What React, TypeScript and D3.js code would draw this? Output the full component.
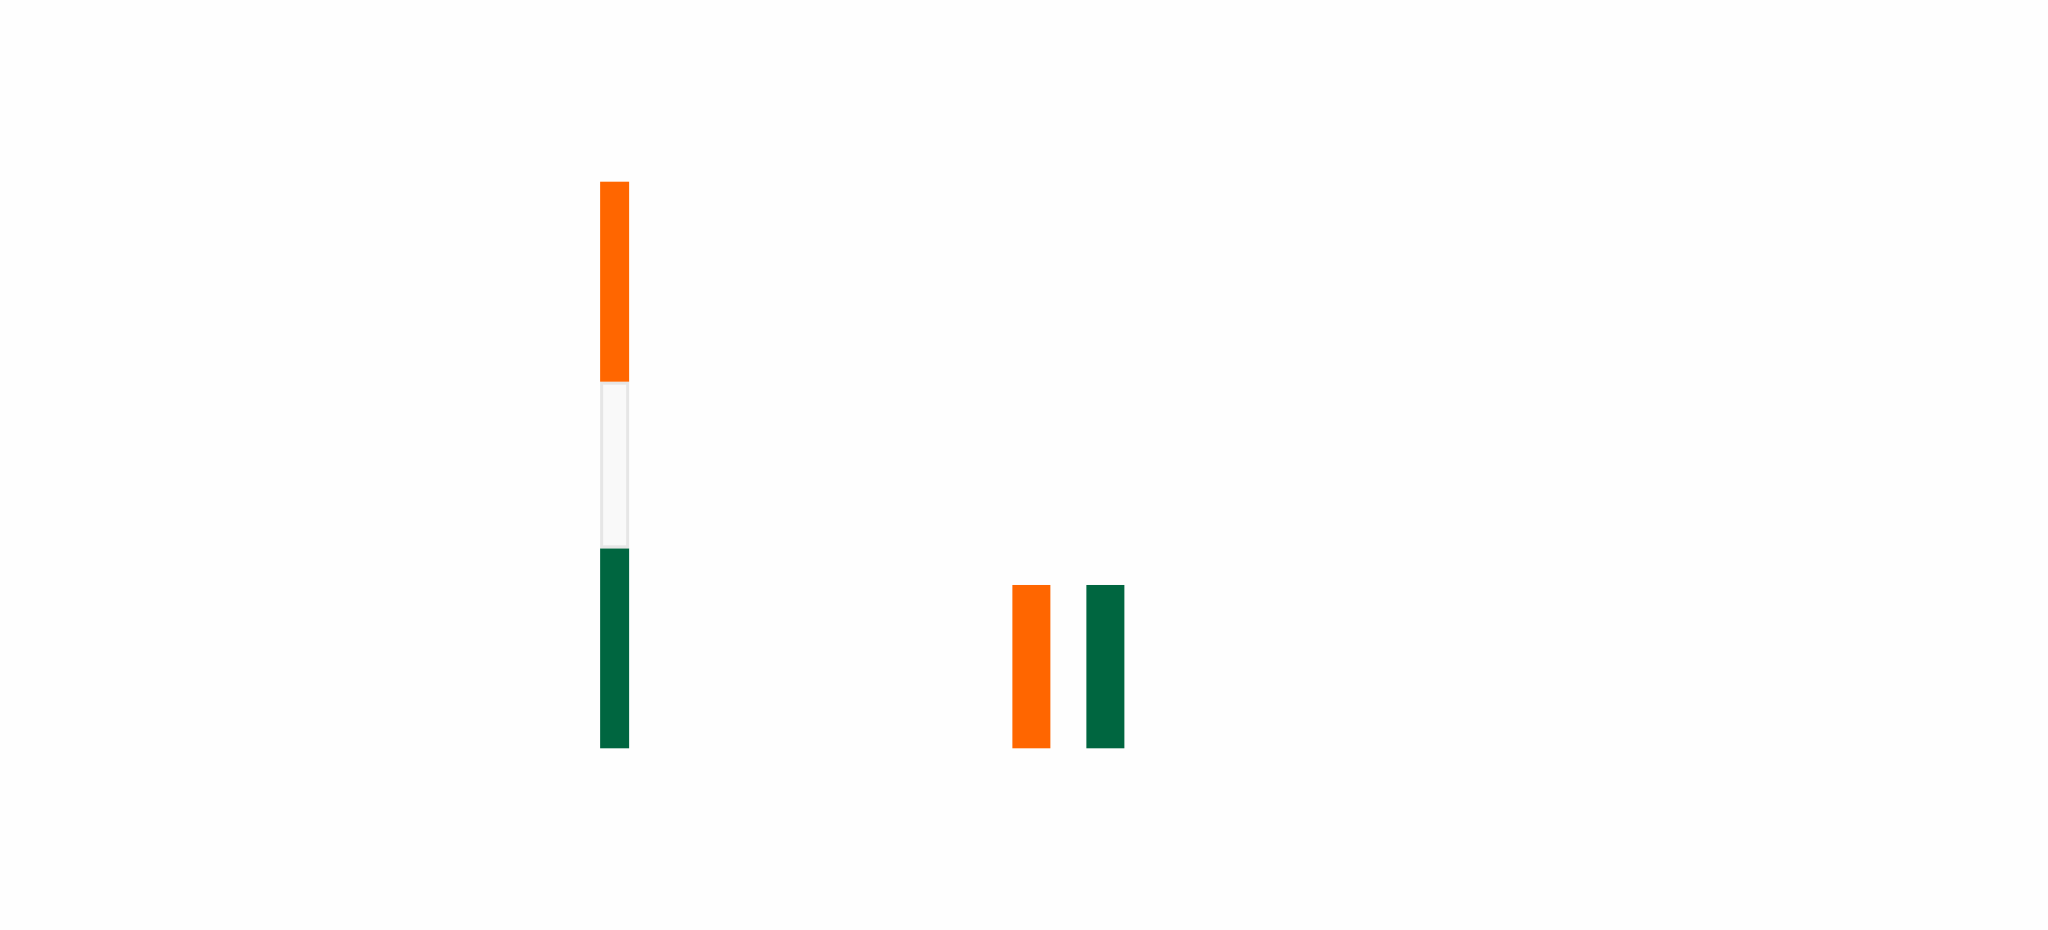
import React, { useEffect, useRef } from 'react';
import * as d3 from 'd3';

// stacked column, bottom to top
const stackKeys = ['green', 'white', 'orange'];
const stackValues = [6, 5, 6];

// side by side pair
const pairKeys = ['orange', 'green'];
const pairValues = [4.9, 4.9];

const categories = ['stack', 'pair'];

const colors: Record<string, string> = {
  orange: '#ff6600',
  white: '#f9f9f9',
  green: '#006640',
};

const WIDTH = 2048;
const HEIGHT = 930;

const App: React.FC = () => {
  const svgRef = useRef<SVGSVGElement>(null);

  useEffect(() => {
    document.body.style.margin = '0';
    if (!svgRef.current) return;

    const svg = d3.select(svgRef.current);
    svg.selectAll('*').remove();

    svg
      .append('rect')
      .attr('width', WIDTH)
      .attr('height', HEIGHT)
      .attr('fill', '#fefefe');

    // Scales
    const x = d3
      .scaleBand<string>()
      .domain(categories)
      .range([387.75, 1295.25])
      .padding(0);

    const y = d3.scaleLinear().domain([0, 17]).range([748.3, 181.7]);

    const g = svg.append('g');

    // Stacked column
    const stackCenter = (x('stack') || 0) + x.bandwidth() / 2;
    const stackWidth = 29;
    const inset = 1.5; // half the white segment's border
    const row: Record<string, number> = {};
    stackKeys.forEach((k, i) => (row[k] = stackValues[i]));
    const series = d3.stack<Record<string, number>>().keys(stackKeys)([row]);

    g.selectAll('.seg')
      .data(series)
      .enter()
      .append('rect')
      .attr('class', 'seg')
      .attr('x', (d) => stackCenter - stackWidth / 2 + (d.key === 'white' ? inset : 0))
      .attr('y', (d) => y(d[0][1]) + (d.key === 'white' ? inset : 0))
      .attr('width', (d) => stackWidth - (d.key === 'white' ? 2 * inset : 0))
      .attr('height', (d) => y(d[0][0]) - y(d[0][1]) - (d.key === 'white' ? 2 * inset : 0))
      .attr('fill', (d) => colors[d.key])
      .attr('stroke', (d) => (d.key === 'white' ? '#e6e6e6' : 'none'))
      .attr('stroke-width', 3);

    // Pair of bars
    const pairCenter = (x('pair') || 0) + x.bandwidth() / 2;
    const sub = d3
      .scaleBand<string>()
      .domain(pairKeys)
      .range([pairCenter - 56, pairCenter + 56])
      .paddingInner(0.4865)
      .paddingOuter(0);

    g.selectAll('.pair')
      .data(pairKeys.map((k, i) => ({ key: k, value: pairValues[i] })))
      .enter()
      .append('rect')
      .attr('class', 'pair')
      .attr('x', (d) => sub(d.key) || 0)
      .attr('y', (d) => y(d.value))
      .attr('width', sub.bandwidth())
      .attr('height', (d) => y(0) - y(d.value))
      .attr('fill', (d) => colors[d.key]);
  }, []);

  return (
    <div style={{ width: WIDTH, height: HEIGHT }}>
      <svg ref={svgRef} width={WIDTH} height={HEIGHT} style={{ display: 'block' }}></svg>
    </div>
  );
};

export default App;
